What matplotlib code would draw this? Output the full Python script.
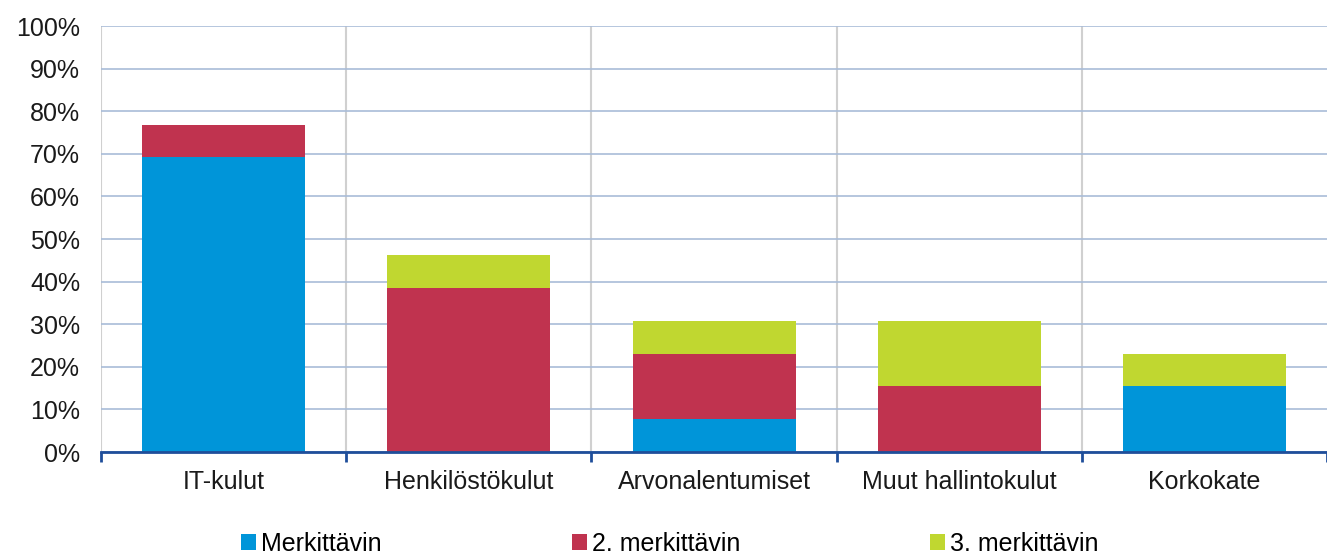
import matplotlib.pyplot as plt
import numpy as np
from matplotlib.ticker import PercentFormatter

plt.rcParams['font.family'] = ['Liberation Sans', 'DejaVu Sans']

# share of respondents naming each cost item (percent)
categories = ["IT-kulut", "Henkilöstökulut", "Arvonalentumiset", "Muut hallintokulut", "Korkokate"]
merkittavin = [69.2, 0.0, 7.7, 0.0, 15.4]
merkittavin_2 = [7.7, 38.5, 15.4, 15.4, 0.0]
merkittavin_3 = [0.0, 7.7, 7.7, 15.4, 7.7]

series = [
    ("Merkittävin", merkittavin, "#0095d9"),
    ("2. merkittävin", merkittavin_2, "#c0334f"),
    ("3. merkittävin", merkittavin_3, "#c0d730"),
]

FS = 18

fig = plt.figure(figsize=(13.27, 5.56), dpi=100)
ax = fig.add_axes([0.0761, 0.187, 0.924, 0.766])

x = np.arange(len(categories))
bottom = np.zeros(len(categories))
for name, vals, color in series:
    ax.bar(x, vals, width=0.665, bottom=bottom, color=color, label=name, zorder=3)
    bottom += np.array(vals)

ax.set_xlim(-0.5, len(categories) - 0.5)
ax.set_ylim(0, 100)
ax.set_yticks(np.arange(0, 101, 10))
ax.yaxis.set_major_formatter(PercentFormatter(decimals=0))

# horizontal grid
ax.grid(axis='y', color='#a9bcd8', linewidth=1.2, zorder=0)
# vertical separators between categories
for b in np.arange(-0.5, len(categories) - 0.5, 1.0):
    ax.axvline(b, color='#d0d0d0', linewidth=1.5, zorder=1)

ax.set_xticks(x)
ax.set_xticklabels(categories)
ax.set_xticks(np.arange(-0.5, len(categories) + 0.5, 1.0), minor=True)
ax.tick_params(axis='x', which='major', length=0, pad=13, labelsize=FS, colors='#1a1a1a')
ax.tick_params(axis='x', which='minor', length=7, width=2, color='#1f4e9a', direction='out')
ax.tick_params(axis='y', length=0, pad=15, labelsize=FS, colors='#1a1a1a')

for s in ['top', 'right', 'left']:
    ax.spines[s].set_visible(False)
ax.spines['bottom'].set_color('#1f4e9a')
ax.spines['bottom'].set_linewidth(2)
ax.spines['bottom'].set_zorder(4)

fig.legend(loc='center', bbox_to_anchor=(0.505, 0.022), ncol=3, frameon=False,
           fontsize=FS, handlelength=0.6, handleheight=0.6, handletextpad=0.2,
           columnspacing=7.6)

plt.savefig("out.png", dpi=100)
